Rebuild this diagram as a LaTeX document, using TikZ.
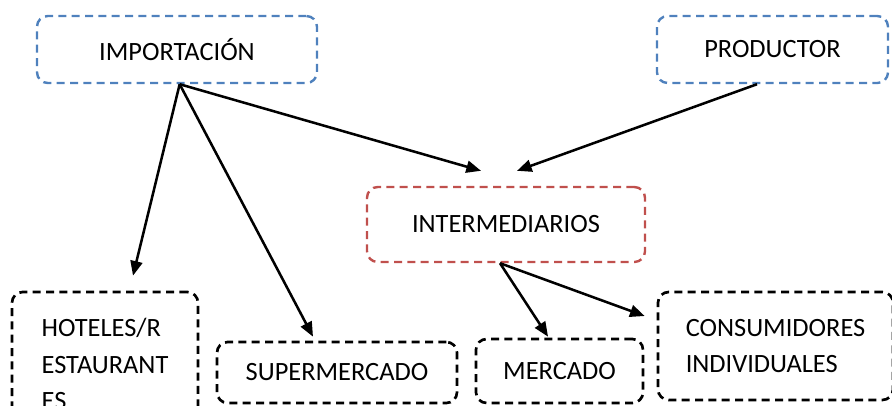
\documentclass[tikz,border=0pt]{standalone}
\usepackage{fontspec}
\setmainfont{Carlito}
\usetikzlibrary{positioning,arrows.meta}

\definecolor{boxblue}{HTML}{4F81BD}
\definecolor{boxred}{HTML}{C0504D}

\tikzset{
	caja/.style={draw, line width=2pt, dash pattern=on 6pt off 4pt, rounded corners=8pt, inner sep=0pt, font=\fontsize{19.8}{27.4}\selectfont},
	flecha/.style={line width=1.9pt, -{Triangle[length=11pt,width=9pt]}}
}

\begin{document}
\begin{tikzpicture}[x=0.75pt,y=-0.75pt]
\useasboundingbox (0,0) rectangle (892,405);

		\node[caja, draw=boxblue, line width=1.8pt, minimum width=210pt, minimum height=50.25pt] (imp) at (177,49.5) {IMPORTACIÓN};
		\node[caja, draw=boxblue, line width=1.8pt, minimum width=173.25pt, minimum height=50.25pt] (prod) at (772.5,49.5) {PRODUCTOR};
		\node[caja, draw=boxred, line width=1.8pt, minimum width=208.5pt, minimum height=56.25pt] (inter) at (506,224.5) {INTERMEDIARIOS};

		\node[caja, minimum width=139.5pt, minimum height=108pt, align=left] (hot) at (105,364) {HOTELES/R\\ESTAURANT\\ES};
		\node[caja, minimum width=180pt, minimum height=45.75pt] (sup) at (337,372.5) {SUPERMERCADO};
		\node[caja, minimum width=125.25pt, minimum height=48pt] (merc) at (559.5,371) {MERCADO};
		\node[caja, minimum width=176.25pt, minimum height=81pt, align=left] (cons) at (775.5,346) {CONSUMIDORES\\INDIVIDUALES};

\draw[flecha] ([xshift=2pt]imp.south) -- ([xshift=21pt,yshift=11.25pt]hot.north);
\draw[flecha] ([xshift=2pt]imp.south) -- ([xshift=-18pt,yshift=3pt]sup.north);
\draw[flecha] ([xshift=2pt]imp.south) -- ([xshift=-18.75pt,yshift=11.25pt]inter.north);
\draw[flecha] ([xshift=-11.6pt]prod.south) -- ([xshift=8.25pt,yshift=11.25pt]inter.north);
\draw[flecha] ([xshift=-4.5pt]inter.south) -- ([xshift=-8.6pt,yshift=0.75pt]merc.north);
\draw[flecha] ([xshift=-4.5pt]inter.south) -- ([xshift=-9pt,yshift=22.5pt]cons.west);
\end{tikzpicture}
\end{document}
